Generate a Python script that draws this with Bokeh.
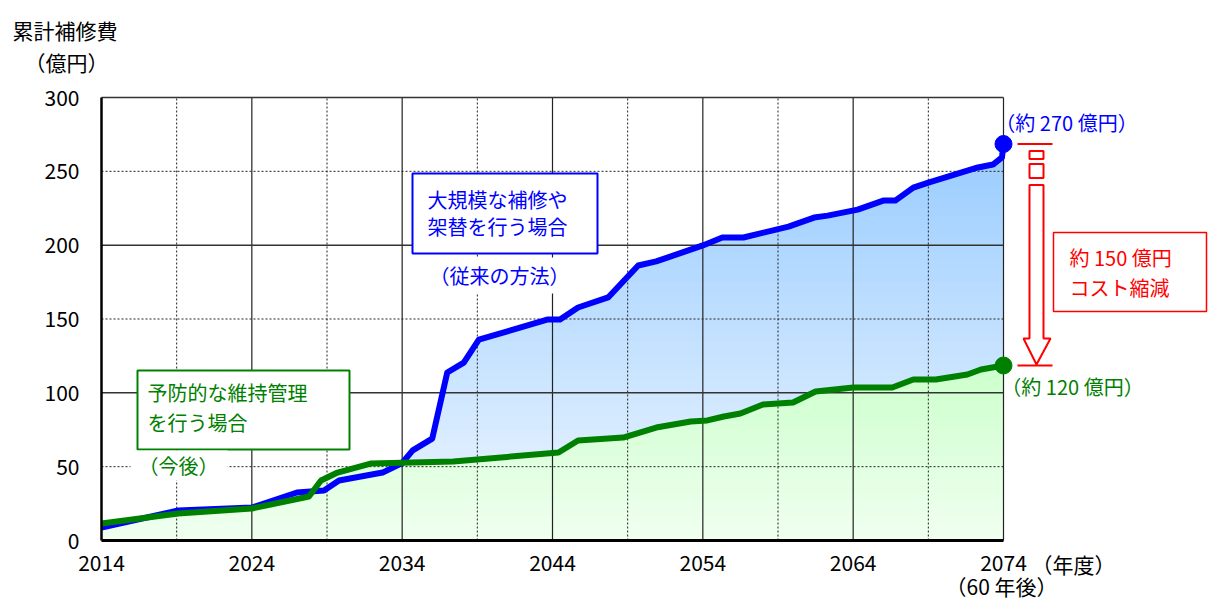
import numpy as np
from bokeh.plotting import figure
from bokeh.models import Range1d, FixedTicker, Label, BoxAnnotation
from bokeh.embed import file_html
from bokeh.resources import INLINE

# ---------------- data ----------------
year_ticks = [2014, 2024, 2034, 2044, 2054, 2064, 2074]
value_ticks = [0, 50, 100, 150, 200, 250, 300]
grid_years_solid = [2024, 2034, 2044, 2054, 2064, 2074]
grid_years_dash = [2019, 2029, 2039, 2049, 2059, 2069]
grid_vals_solid = [100, 200, 300]
grid_vals_dash = [50, 150, 250]

# conventional method (large-scale repair / replacement), cumulative cost (100 million yen)
blue_x = [2014.0, 2019.1, 2024.0, 2027.0, 2028.8, 2029.8, 2032.7, 2034.0, 2034.7, 2036.0,
          2037.0, 2038.1, 2039.1, 2043.7, 2044.5, 2045.7, 2047.7, 2049.7, 2050.9, 2054.0,
          2055.3, 2056.7, 2059.7, 2061.4, 2062.3, 2064.3, 2066.0, 2066.8, 2068.0, 2069.0,
          2072.3, 2073.3, 2073.9, 2074.0]
blue_y = [8.8, 20.3, 22.3, 32.5, 33.9, 40.6, 46.0, 52.5, 61.0, 69.0,
          113.8, 120.5, 136.0, 149.7, 149.7, 157.8, 164.6, 186.2, 189.0, 199.8,
          205.2, 205.2, 212.6, 218.7, 220.0, 224.1, 230.2, 230.2, 239.0, 242.4,
          252.6, 254.6, 259.4, 268.5]

# preventive maintenance (future)
green_x = [2014.0, 2019.1, 2024.0, 2027.8, 2028.6, 2029.7, 2031.9, 2037.4, 2044.4, 2045.7,
           2048.7, 2050.9, 2053.2, 2054.3, 2055.4, 2056.5, 2058.0, 2060.0, 2061.5, 2064.0,
           2066.6, 2068.0, 2069.5, 2071.6, 2072.5, 2074.0]
green_y = [11.5, 18.3, 21.7, 29.8, 40.6, 46.0, 52.1, 53.5, 59.6, 67.7,
           69.7, 76.5, 80.6, 81.3, 84.0, 86.0, 92.1, 93.5, 100.9, 103.6,
           103.6, 109.0, 109.0, 112.4, 115.8, 118.5]

# ---------------- layout helpers ----------------
FONT = "Noto Sans CJK JP"
PX_YR = 902 / 60.0      # pixels per year
PX_VAL = 443 / 300.0    # pixels per 100-million-yen
W, H = 1208, 601


def X(px):
    return 2014 + (px - 101) / PX_YR


def Y(py):
    return (540 - py) / PX_VAL


p = figure(width=W, height=H, output_backend="svg", toolbar_location=None,
           x_range=Range1d(X(0), X(W)), y_range=Range1d(Y(H), Y(0)),
           min_border=0, min_border_left=0, min_border_right=0,
           min_border_top=0, min_border_bottom=0)
p.outline_line_color = None
p.background_fill_color = "white"
p.border_fill_color = "white"
p.grid.visible = False

# ---------------- gradient fills ----------------
xx = np.union1d(np.linspace(2014, 2074, 1201), np.union1d(blue_x, green_x))
bb = np.interp(xx, blue_x, blue_y)
gg = np.interp(xx, green_x, green_y)


def lerp_color(c0, c1, t):
    t = float(np.clip(t, 0, 1))
    r, g, b = (int(round(a + (c - a) * t)) for a, c in zip(c0, c1))
    return "#%02x%02x%02x" % (r, g, b)


xs, ys, cols = [], [], []
blue_bot, blue_top = (236, 245, 255), (153, 204, 255)
for c in np.arange(300, 0, -5):
    upper = np.maximum(gg, np.minimum(bb, c))
    xs.append(np.concatenate([xx, xx[::-1]]))
    ys.append(np.concatenate([upper, gg[::-1]]))
    cols.append(lerp_color(blue_bot, blue_top, (c - 2.5 - 10) / 258))
green_bot, green_top = (240, 255, 240), (204, 255, 204)
for c in np.arange(120, 0, -3):
    upper = np.minimum(gg, c)
    xs.append(np.concatenate([xx, xx[::-1]]))
    ys.append(np.concatenate([upper, np.zeros_like(xx)]))
    cols.append(lerp_color(green_bot, green_top, (c - 1.5) / 118))
p.patches(xs=xs, ys=ys, fill_color=cols, line_color=None, level="image")

# ---------------- grid lines (limited to the chart area) ----------------
x0, x1 = year_ticks[0], year_ticks[-1]
y0, y1 = value_ticks[0], value_ticks[-1]
p.segment(x0=grid_years_solid, x1=grid_years_solid, y0=[y0] * 6, y1=[y1] * 6,
          line_color="#222222", line_width=1.2, level="underlay")
p.segment(x0=grid_years_dash, x1=grid_years_dash, y0=[y0] * 6, y1=[y1] * 6,
          line_color="#222222", line_width=1, line_dash="2 2", level="underlay")
p.segment(x0=[x0] * 3, x1=[x1] * 3, y0=grid_vals_solid, y1=grid_vals_solid,
          line_color="#333333", line_width=1.5, level="underlay")
p.segment(x0=[x0] * 3, x1=[x1] * 3, y0=grid_vals_dash, y1=grid_vals_dash,
          line_color="#222222", line_width=1, line_dash="2 2", level="underlay")

# ---------------- axes (fixed inside the canvas at the chart origin) ----------------
p.xaxis.fixed_location = 0
p.yaxis.fixed_location = 2014
p.xaxis.ticker = FixedTicker(ticks=year_ticks)
p.yaxis.ticker = FixedTicker(ticks=value_ticks)
p.xaxis.bounds = (x0, x1)
p.yaxis.bounds = (y0, y1)
for ax in (p.xaxis, p.yaxis):
    ax.axis_line_color = "black"
    ax.major_tick_line_color = None
    ax.minor_tick_line_color = None
    ax.major_label_text_font = FONT
    ax.major_label_text_font_size = "21px"
    ax.major_label_text_color = "black"
p.xaxis.axis_line_width = 3
p.yaxis.axis_line_width = 2.5
p.xaxis.major_label_standoff = 8
p.yaxis.major_label_standoff = 16

# ---------------- boxes and text backgrounds ----------------


def box(l, r, t, b, line_color=None, line_width=2):
    p.add_layout(BoxAnnotation(left=X(l), right=X(r), top=Y(t), bottom=Y(b),
                               fill_color="white", fill_alpha=1,
                               line_color=line_color, line_alpha=1, line_width=line_width))


box(412, 597, 173, 253, "#0000ff", 2)
box(137, 349, 370, 449, "#008000", 2)
box(428, 570, 257, 293)
box(130, 227, 450, 480)
box(1053, 1206, 232, 311, "#ff0000", 1.5)

# ---------------- lines and end points ----------------
p.line(blue_x, blue_y, line_color="#0000ff", line_width=6, line_join="round")
p.line(green_x, green_y, line_color="#008000", line_width=6, line_join="round")
p.scatter([blue_x[-1]], [blue_y[-1]], size=17, fill_color="#0000ff", line_color="#0000ff")
p.scatter([green_x[-1]], [green_y[-1]], size=17, fill_color="#008000", line_color="#008000")

# ---------------- reduction arrow (between the two end values) ----------------
top_v, bot_v = blue_y[-1], green_y[-1]
cx = X(1036)


def dx(px):
    return px / PX_YR


def dy(px):
    return px / PX_VAL


red = "#ff0000"
p.segment(x0=[cx - dx(19), cx - dx(19)], x1=[cx + dx(16), cx + dx(16)],
          y0=[top_v, bot_v], y1=[top_v, bot_v], line_color=red, line_width=2)
p.quad(left=[cx - dx(7), cx - dx(7)], right=[cx + dx(7), cx + dx(7)],
       top=[top_v - dy(7), top_v - dy(20)], bottom=[top_v - dy(15), top_v - dy(34)],
       fill_color="white", line_color=red, line_width=2)
shaft_top = top_v - dy(41)
head_base = bot_v + dy(27)
p.patch(x=[cx - dx(7), cx + dx(7), cx + dx(7), cx + dx(14), cx, cx - dx(13), cx - dx(7)],
        y=[shaft_top, shaft_top, head_base, head_base, bot_v + dy(1), head_base, head_base],
        fill_color="white", line_color=red, line_width=2)

# ---------------- texts ----------------


def label(px, py, text, color="black", align="left", size="20px"):
    p.add_layout(Label(x=X(px), y=Y(py), text=text, text_color=color, text_font=FONT,
                       text_font_size=size, text_align=align, text_baseline="middle"))


label(12, 29, "累計補修費", size="21px")
label(66, 61, "（億円）", align="center", size="21px")

label(427, 199, "大規模な補修や", color="#0000ff")
label(427, 226, "架替を行う場合", color="#0000ff")
label(499, 275, "（従来の方法）", color="#0000ff", align="center")

label(147, 392, "予防的な維持管理", color="#008000")
label(147, 422, "を行う場合", color="#008000")
label(178, 465, "（今後）", color="#008000", align="center")

label(1066, 122, "（約 270 億円）", color="#0000ff", align="center")
label(1072, 386, "（約 120 億円）", color="#008000", align="center")
label(1069, 257, "約 150 億円", color=red)
label(1069, 287, "コスト縮減", color=red)

label(1073, 563, "（年度）", align="center", size="21px")
label(1001, 585, "（60 年後）", align="center", size="21px")

open("out.html", "w").write(file_html(p, INLINE))
